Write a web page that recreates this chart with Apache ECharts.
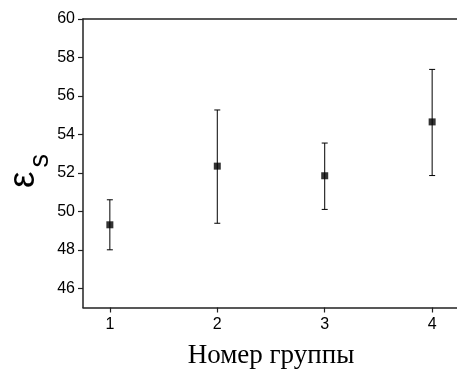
<!DOCTYPE html>
<html><head><meta charset="utf-8">
<script src="https://cdn.jsdelivr.net/npm/echarts@6/dist/echarts.min.js"></script>
<style>html,body{margin:0;padding:0;background:#fff}#c{width:457px;height:372px}</style>
</head><body><div id="c"></div>
<script>
var groups = [1, 2, 3, 4];
var means = [49.3, 52.35, 51.85, 54.65];
var upper = [50.6, 55.27, 53.55, 57.38];
var lower = [48.0, 49.38, 50.1, 51.86];
var yTicks = [46, 48, 50, 52, 54, 56, 58, 60];
var xTicks = [1, 2, 3, 4];

var chart = echarts.init(document.getElementById('c'), null, {renderer: 'canvas'});
var axisColor = '#222';
chart.setOption({
  animation: false,
  grid: {left: 83, right: -2, top: 19, bottom: 64.5, containLabel: false, outerBoundsMode: 'none'},
  xAxis: [{
    type: 'value', min: 0.75, max: 4.25,
    name: 'Номер группы', nameLocation: 'middle', nameGap: 35,
    nameTextStyle: {fontFamily: 'Liberation Serif', fontSize: 27, color: '#000'},
    axisLine: {show: true, lineStyle: {color: axisColor, width: 1.5}},
    axisTick: {show: true, length: 5, lineStyle: {color: axisColor, width: 1.2}, customValues: xTicks},
    axisLabel: {color: '#000', fontFamily: 'Liberation Sans', fontSize: 16, margin: 9, customValues: xTicks},
    splitLine: {show: false}
  }, {
    type: 'value', position: 'top', min: 0.75, max: 4.25,
    axisLine: {show: true, lineStyle: {color: axisColor, width: 1.5}},
    axisTick: {show: false}, axisLabel: {show: false}, splitLine: {show: false}
  }],
  yAxis: [{
    type: 'value', min: 45, max: 60, position: 'left',
    name: 'ε', nameLocation: 'middle', nameGap: 41, nameRotate: 90,
    nameTextStyle: {fontFamily: 'Liberation Sans', fontSize: 37, lineHeight: 37, color: '#000', padding: [0, 33, 0, 0]},
    axisLine: {show: true, lineStyle: {color: axisColor, width: 1.5}},
    axisTick: {show: true, length: 5, lineStyle: {color: axisColor, width: 1.2}, customValues: yTicks},
    axisLabel: {color: '#000', fontFamily: 'Liberation Sans', fontSize: 16, margin: 8, customValues: yTicks},
    splitLine: {show: false}
  }, {
    type: 'value', min: 45, max: 60, position: 'left', offset: 0,
    name: 's', nameLocation: 'middle', nameGap: 29, nameRotate: 90,
    nameTextStyle: {fontFamily: 'Liberation Sans', fontSize: 27, lineHeight: 27, color: '#000', padding: [0, 0, 0, 5]},
    axisLine: {show: false}, axisTick: {show: false}, axisLabel: {show: false}, splitLine: {show: false}
  }],
  series: [{
    type: 'custom',
    data: groups.map(function (g, i) { return [g, lower[i], upper[i]]; }),
    renderItem: function (params, api) {
      var x = api.value(0);
      var lo = api.coord([x, api.value(1)]);
      var hi = api.coord([x, api.value(2)]);
      var w = 3;
      var st = {stroke: '#000', lineWidth: 1};
      return {type: 'group', children: [
        {type: 'line', shape: {x1: lo[0], y1: lo[1], x2: hi[0], y2: hi[1]}, style: st},
        {type: 'line', shape: {x1: lo[0] - w, y1: lo[1], x2: lo[0] + w, y2: lo[1]}, style: st},
        {type: 'line', shape: {x1: hi[0] - w, y1: hi[1], x2: hi[0] + w, y2: hi[1]}, style: st}
      ]};
    },
    z: 2
  }, {
    type: 'scatter',
    data: groups.map(function (g, i) { return [g, means[i]]; }),
    symbol: 'rect', symbolSize: 7,
    itemStyle: {color: '#000'},
    z: 3
  }]
});
</script></body></html>
